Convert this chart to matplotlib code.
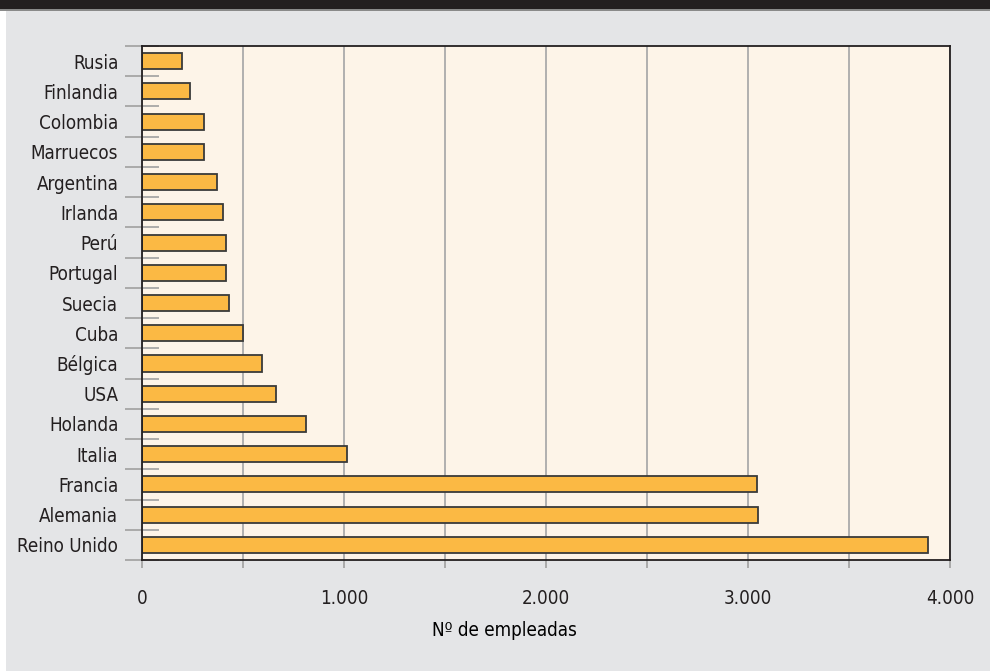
import matplotlib
matplotlib.use("Agg")
import matplotlib.pyplot as plt
from matplotlib.ticker import FuncFormatter, FixedLocator
from matplotlib.patches import Rectangle

# data, top to bottom as in the picture
countries = ['Rusia', 'Finlandia', 'Colombia', 'Marruecos', 'Argentina', 'Irlanda',
             'Perú', 'Portugal', 'Suecia', 'Cuba', 'Bélgica', 'USA', 'Holanda',
             'Italia', 'Francia', 'Alemania', 'Reino Unido']
employees = [200, 236, 306, 305, 369, 401, 416, 417, 432, 498, 592, 663, 812,
             1015, 3046, 3051, 3893]
x_ticks = [0, 1000, 2000, 3000, 4000]

plt.rcParams['font.family'] = ['DejaVu Sans']
plt.rcParams['font.stretch'] = 'condensed'
plt.rcParams['text.color'] = '#231F20'
plt.rcParams['xtick.labelcolor'] = '#231F20'
plt.rcParams['ytick.labelcolor'] = '#231F20'

fig = plt.figure(figsize=(9.9, 6.71), dpi=100, facecolor='#E4E5E7')
ax = fig.add_axes([0.1434, 0.1654, 0.8162, 0.766])
ax.set_facecolor('#FDF4E8')

# dark band at the top and white strip at the left edge
fig.patches.append(Rectangle((0, 1 - 9 / 671), 1, 9 / 671, transform=fig.transFigure,
                             facecolor='#231F20', edgecolor='none', zorder=0))
fig.patches.append(Rectangle((0, 1 - 10.5 / 671), 1, 1.5 / 671, transform=fig.transFigure,
                             facecolor='#8A8A8A', edgecolor='none', zorder=0))
fig.patches.append(Rectangle((0, 0), 6 / 990, 1 - 10.5 / 671, transform=fig.transFigure,
                             facecolor='white', edgecolor='none', zorder=0))

n = len(countries)
ypos = list(range(n))
ax.barh(ypos, employees, height=0.53, color='#FBB944', edgecolor='#3A3A3A',
        linewidth=1.3, zorder=3)

ax.set_ylim(n - 0.5, -0.5)
ax.set_xlim(0, 4000)

# vertical grid every 500
ax.xaxis.set_minor_locator(FixedLocator([500, 1500, 2500, 3500]))
ax.set_xticks(x_ticks)
ax.grid(axis='x', which='both', color='#AAAAAA', linewidth=1.3, zorder=1)
ax.xaxis.set_major_formatter(FuncFormatter(lambda v, p: f'{int(v):,}'.replace(',', '.')))
ax.tick_params(axis='x', which='both', direction='out', length=6, width=1.2,
               color='#A0A0A0', labelsize=13.5, pad=15)

# category labels at centers, ticks at boundaries
ax.set_yticks(ypos)
ax.set_yticklabels(countries)
ax.yaxis.set_minor_locator(FixedLocator([i - 0.5 for i in range(n + 1)]))
ax.tick_params(axis='y', which='major', length=0, labelsize=13.5, pad=17)
ax.tick_params(axis='y', which='minor', direction='inout', length=25, width=1.2,
               color='#A0A0A0')

for s in ax.spines.values():
    s.set_color('#231F20')
    s.set_linewidth(1.3)
    s.set_zorder(4)

ax.set_xlabel('Nº de empleadas', fontsize=13.5)
ax.xaxis.set_label_coords(0.448, -0.118)

fig.savefig('out.png', dpi=100, facecolor=fig.get_facecolor())
